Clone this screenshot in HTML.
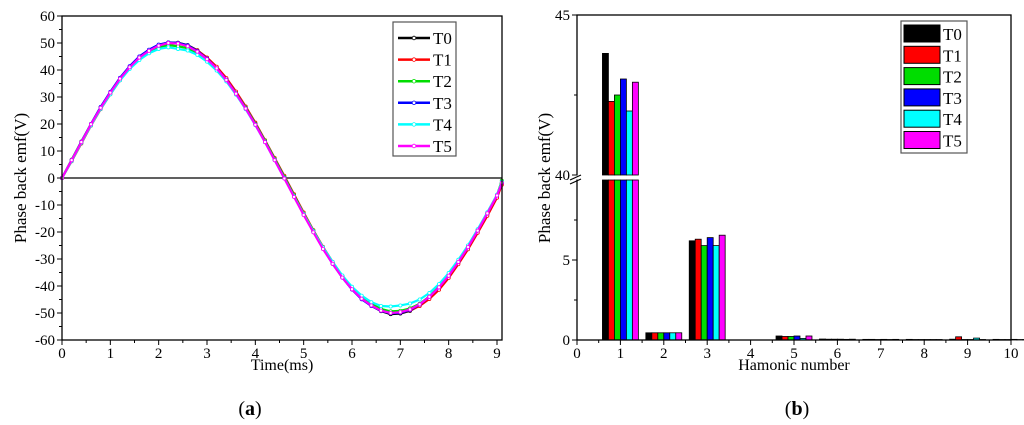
<!DOCTYPE html>
<html><head><meta charset="utf-8"><style>
html,body{margin:0;padding:0;background:#fff;}
svg{display:block;font-family:"Liberation Serif",serif;}
</style></head><body>
<svg id="c" width="1024" height="425" viewBox="0 0 1024 425"></svg>
<script>
// ---- Chart (a) data ----
const timeStep = 0.2;
const seriesNames = ['T0','T1','T2','T3','T4','T5'];
const seriesColors = ['#000000','#ff0000','#00dd00','#0000ff','#00ffff','#ff00ff'];
const T0 = [0,6.5,13.2,19.8,26.1,31.6,36.9,41.2,44.8,47.3,49.2,50.2,50.1,49.2,47.3,44.5,41.0,36.7,31.6,26.1,20.0,13.6,6.9,0.2,-6.6,-13.4,-19.8,-26.1,-31.6,-36.8,-41.2,-44.7,-47.3,-49.3,-50.4,-50.2,-49.2,-47.2,-44.3,-40.8,-36.5,-31.3,-25.8,-19.7,-13.3,-6.7,-2.0];
const T1 = [0,6.2,12.8,19.4,25.5,31.0,36.2,40.6,44.2,46.9,48.9,49.9,49.9,49.0,47.2,44.6,41.2,37.0,32.0,26.5,20.5,14.0,7.4,0.8,-6.0,-12.8,-19.3,-25.5,-31.1,-36.3,-40.8,-44.4,-47.1,-49.1,-50.0,-49.9,-49.0,-47.4,-44.8,-41.4,-37.0,-31.9,-26.4,-20.3,-14.0,-7.3,-2.5];
const T2 = [0,6.8,13.5,20.0,26.2,31.5,36.6,40.7,44.0,46.5,48.3,49.2,48.8,48.1,46.2,43.8,40.4,36.3,31.4,26.1,20.1,13.8,7.1,0.4,-6.4,-13.2,-19.5,-25.8,-31.3,-36.4,-40.7,-44.1,-46.6,-48.5,-49.4,-49.2,-48.3,-46.6,-43.9,-40.3,-36.0,-30.9,-25.4,-19.3,-12.9,-6.3,-1.0];
const T3 = [0,6.6,13.4,20.0,26.3,31.9,37.1,41.4,45.0,47.5,49.4,50.2,50.0,49.1,47.0,44.2,40.6,36.4,31.3,25.8,19.8,13.4,6.7,0.0,-6.8,-13.5,-19.9,-26.2,-31.8,-36.9,-41.3,-44.9,-47.4,-49.2,-50.1,-49.9,-48.9,-46.9,-44.0,-40.5,-36.2,-31.1,-25.6,-19.5,-13.1,-6.5,-1.8];
const T4 = [0,6.3,13.0,19.5,25.6,31.0,36.2,40.4,43.7,46.2,47.8,48.4,47.8,47.2,45.6,43.1,39.8,35.8,30.9,25.5,19.6,13.3,6.6,-0.1,-6.8,-13.4,-19.7,-25.7,-31.1,-36.1,-40.3,-43.6,-46.0,-47.4,-47.6,-47.2,-46.5,-45.0,-42.6,-39.3,-35.2,-30.3,-25.0,-19.0,-12.7,-6.2,-1.5];
const T5 = [0,6.6,13.3,19.9,26.0,31.6,36.8,41.0,44.6,47.1,49.0,50.0,49.8,48.8,46.8,44.0,40.6,36.3,31.2,25.7,19.7,13.3,6.6,-0.2,-7.0,-13.7,-20.1,-26.3,-31.8,-36.9,-41.2,-44.7,-47.2,-49.1,-50.0,-49.7,-48.7,-46.8,-44.0,-40.5,-36.2,-31.1,-25.6,-19.5,-13.1,-6.5,-1.8];
const seriesData = [T0,T1,T2,T3,T4,T5];
const xTicksA = [0,1,2,3,4,5,6,7,8,9];
const yTicksA = [-60,-50,-40,-30,-20,-10,0,10,20,30,40,50,60];

// ---- Chart (b) data ----
const harmonics = [1,2,3,5,6,7,8,9,10];
const H_T0 = [43.8,0.45,6.2,0.25,0.06,0.04,0.04,0.05,0.04];
const H_T1 = [42.3,0.45,6.3,0.22,0.05,0.04,0.03,0.20,0.03];
const H_T2 = [42.5,0.45,5.9,0.22,0.05,0.03,0.03,0.03,0.03];
const H_T3 = [43.0,0.45,6.4,0.25,0.05,0.04,0.03,0.03,0.04];
const H_T4 = [42.0,0.45,5.9,0.10,0.04,0.03,0.03,0.12,0.03];
const H_T5 = [42.9,0.45,6.55,0.25,0.05,0.04,0.03,0.03,0.03];
const harmData = [H_T0,H_T1,H_T2,H_T3,H_T4,H_T5];
const xTicksB = [0,1,2,3,4,5,6,7,8,9,10];

const NS='http://www.w3.org/2000/svg';
const svg=document.getElementById('c');
function mk(tag,attrs,parent){const e=document.createElementNS(NS,tag);for(const k in attrs)e.setAttribute(k,attrs[k]);(parent||svg).appendChild(e);return e;}
function txt(s,x,y,size,anchor,parent){const t=mk('text',{x:x,y:y,'font-size':size,'text-anchor':anchor||'middle'},parent);t.textContent=s;return t;}

// ===== Chart A =====
const A={l:62,r:502,t:16,b:340};
const ax=v=>A.l+v*(497-62)/9;
const ay=v=>A.t+(60-v)*(A.b-A.t)/120;
const gA=mk('g',{});


mk('line',{x1:A.l,y1:ay(0),x2:A.r,y2:ay(0),stroke:'#000','stroke-width':1.2},gA);
seriesData.forEach((d,si)=>{
  const g=mk('g',{},gA);
  
  
  const pts=d.map((v,i)=>{const t=i<46?i*timeStep:9.1;return [ax(t),ay(v)];});
  mk('polyline',{points:pts.map(p=>p.join(',')).join(' '),fill:'none',stroke:seriesColors[si],'stroke-width':2.2},g);
  pts.forEach(p=>mk('circle',{cx:p[0],cy:p[1],r:1.6,fill:'#fff',stroke:seriesColors[si],'stroke-width':0.8},g));
});
mk('rect',{x:A.l,y:A.t,width:A.r-A.l,height:A.b-A.t,fill:'none',stroke:'#000','stroke-width':1.3},gA);
xTicksA.forEach(v=>{mk('line',{x1:ax(v),y1:A.b,x2:ax(v),y2:A.b+5,stroke:'#000'},gA);
  if(v<9)mk('line',{x1:ax(v+0.5),y1:A.b,x2:ax(v+0.5),y2:A.b+3,stroke:'#000'},gA);
  const t=txt(String(v),ax(v),A.b+18,15,'middle',gA);});
yTicksA.forEach(v=>{mk('line',{x1:A.l-5,y1:ay(v),x2:A.l,y2:ay(v),stroke:'#000'},gA);
  if(v<60)mk('line',{x1:A.l-3,y1:ay(v+5),x2:A.l,y2:ay(v+5),stroke:'#000'},gA);
  const t=txt(String(v),A.l-7,ay(v)+5,15,'end',gA);});
let t1=txt('Time(ms)',282,370,16,'middle',gA);
let t2=txt('Phase back emf(V)',0,0,17,'middle',gA);t2.setAttribute('transform','translate(26,178) rotate(-90)');

const lgA=mk('g',{},gA);

mk('rect',{x:393,y:22,width:63,height:134,fill:'#fff',stroke:'#555','stroke-width':1.2},lgA);
seriesNames.forEach((n,i)=>{const y=38+i*21.6;
  const e=mk('g',{},lgA);
  mk('line',{x1:398,y1:y,x2:430,y2:y,stroke:seriesColors[i],'stroke-width':2.5},e);
  mk('circle',{cx:414,cy:y,r:1.8,fill:'#fff',stroke:seriesColors[i],'stroke-width':0.8},e);
  txt(n,433,y+6,17,'start',e);});
let la=txt('',250,415,20,'middle');la.innerHTML='(<tspan font-weight="bold">a</tspan>)';


// ===== Chart B =====
const B={l:577,r:1011,t:15,b:340};
const bx=v=>B.l+v*(B.r-B.l)/10;
const byLow=v=>B.b-v*16;
const byHigh=v=>175-(v-40)*32;
const by=v=>v>=40?byHigh(v):byLow(Math.min(v,10));
const gB=mk('g',{});

const barW=(B.r-B.l)/10*0.138;
harmonics.forEach((h,hi)=>{
  harmData.forEach((d,si)=>{
    const v=d[hi];const x=bx(h)+(si-3)*barW;
    if(v>=40){
      const r1=mk('rect',{x:x,y:byHigh(v),width:barW,height:175-byHigh(v),fill:seriesColors[si],stroke:'#000','stroke-width':0.8},gB);
      
      mk('rect',{x:x,y:180,width:barW,height:160,fill:seriesColors[si],stroke:'#000','stroke-width':0.8},gB);
    } else {
      const r=mk('rect',{x:x,y:by(v),width:barW,height:B.b-by(v),fill:seriesColors[si],stroke:'#000','stroke-width':0.8},gB);
      
    }
  });
});
mk('rect',{x:B.l,y:B.t,width:B.r-B.l,height:B.b-B.t,fill:'none',stroke:'#000','stroke-width':1.3},gB);
mk('rect',{x:B.l-12,y:175.5,width:80,height:4,fill:'#fff'},gB);
mk('line',{x1:B.l-7,y1:180,x2:B.l+4,y2:175,stroke:'#000','stroke-width':1.2},gB);
mk('line',{x1:B.l-7,y1:184,x2:B.l+4,y2:179,stroke:'#000','stroke-width':1.2},gB);
xTicksB.forEach(v=>{mk('line',{x1:bx(v),y1:B.b,x2:bx(v),y2:B.b+5,stroke:'#000'},gB);
  if(v<10)mk('line',{x1:bx(v+0.5),y1:B.b,x2:bx(v+0.5),y2:B.b+3,stroke:'#000'},gB);
  const t=txt(String(v),bx(v),B.b+18,15,'middle',gB);});
[[0,'0'],[5,'5'],[2.5,''],[7.5,'']].forEach(([v,l])=>{mk('line',{x1:B.l-(l?5:3),y1:byLow(v),x2:B.l,y2:byLow(v),stroke:'#000'},gB);
  if(l){const t=txt(l,B.l-7,byLow(v)+5,15,'end',gB);}});
[[45,'45'],[40,'40'],[42.5,'']].forEach(([v,l])=>{mk('line',{x1:B.l-(l?5:3),y1:byHigh(v),x2:B.l,y2:byHigh(v),stroke:'#000'},gB);
  if(l){const t=txt(l,B.l-7,byHigh(v)+5,15,'end',gB);}});
let t3=txt('Hamonic number',794,370,16,'middle',gB);
let t4=txt('Phase back emf(V)',0,0,17,'middle',gB);t4.setAttribute('transform','translate(550,178) rotate(-90)');

const lgB=mk('g',{},gB);

mk('rect',{x:901,y:21,width:66,height:132,fill:'#fff',stroke:'#555','stroke-width':1.2},lgB);
seriesNames.forEach((n,i)=>{const y=25+i*21.3;
  const e=mk('g',{},lgB);
  mk('rect',{x:904,y:y,width:36,height:17,fill:seriesColors[i],stroke:'#000','stroke-width':1},e);
  txt(n,943,y+15,17,'start',e);});
let lb=txt('',797,415,20,'middle');lb.innerHTML='(<tspan font-weight="bold">b</tspan>)';

</script>
</body></html>
